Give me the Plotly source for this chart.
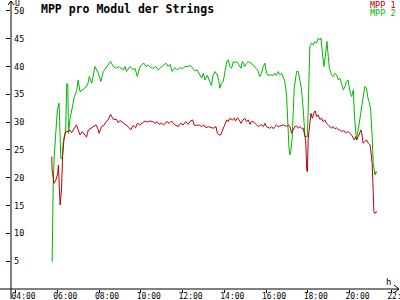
import plotly.graph_objects as go

# ---- data ----
series_names = ["MPP 1", "MPP 2"]
series_colors = ["#c00000", "#00b800"]

mpp1_times = ["05:44","05:45","05:50","05:56","06:01","06:03","06:08","06:10","06:12","06:15","06:19","06:24","06:32","06:36","06:41","06:49","06:55","07:00","07:05","07:12","07:18","07:24","07:29","07:37","07:43","07:51","07:56","08:00","08:07","08:15","08:20","08:26","08:33","08:41","08:50","08:55","09:00","09:10","09:17","09:24","09:31","09:38","09:45","09:50","09:57","10:05","10:12","10:19","10:26","10:34","10:41","10:47","10:53","11:00","11:06","11:14","11:22","11:28","11:33","11:41","11:48","11:54","12:02","12:09","12:16","12:23","12:29","12:33","12:40","12:48","12:55","13:01","13:07","13:14","13:21","13:28","13:36","13:40","13:45","13:50","13:54","14:00","14:07","14:11","14:16","14:23","14:29","14:32","14:38","14:42","14:48","14:54","14:59","15:04","15:09","15:14","15:18","15:23","15:28","15:33","15:38","15:42","15:47","15:52","15:57","16:01","16:06","16:11","16:16","16:21","16:25","16:30","16:35","16:40","16:45","16:49","16:54","16:59","17:04","17:09","17:13","17:18","17:23","17:28","17:33","17:37","17:42","17:47","17:50","17:54","17:57","17:59","18:01","18:06","18:09","18:13","18:19","18:22","18:25","18:30","18:35","18:40","18:44","18:49","18:54","18:59","19:04","19:08","19:13","19:18","19:23","19:28","19:32","19:37","19:42","19:47","19:51","19:56","20:01","20:06","20:11","20:14","20:17","20:21","20:25","20:30","20:33","20:36","20:39","20:44","20:49","20:54","20:59","21:01","21:05","21:08","21:10","21:13","21:16","21:19"]
mpp1_values = [23.8,21.4,19.0,19.6,20.8,22.3,15.1,16.0,17.8,23.8,26.8,28.3,28.3,28.6,28.1,28.9,29.5,28.6,27.7,28.3,27.7,27.3,28.6,28.9,29.2,29.5,28.9,28.0,29.2,29.5,30.1,30.4,31.4,30.5,30.5,29.9,30.3,29.8,29.5,29.2,28.6,29.4,29.0,29.8,29.5,29.8,30.2,30.0,30.2,30.1,29.8,30.1,29.6,29.8,29.5,30.1,29.8,30.2,29.8,29.4,29.2,29.8,29.5,30.1,29.6,30.2,30.4,29.5,29.4,29.5,29.2,29.5,29.0,29.2,29.0,28.9,29.2,28.0,27.7,27.7,28.4,29.5,30.4,30.1,30.7,30.4,30.7,30.2,30.8,30.4,29.8,30.4,30.7,30.1,30.4,29.6,30.1,30.1,29.8,29.5,29.2,29.4,29.5,29.2,29.8,29.2,29.0,28.9,29.2,28.8,29.2,29.5,29.2,29.3,29.4,29.5,29.4,29.2,29.5,29.2,28.0,28.6,29.2,29.3,28.9,29.2,28.9,28.9,28.0,26.8,21.4,21.1,26.8,30.4,31.6,30.7,31.9,32.0,31.0,31.3,30.5,30.7,30.1,30.4,29.8,29.5,29.2,28.9,29.2,28.8,29.0,28.6,28.6,28.3,28.5,28.3,28.1,28.3,28.0,27.7,27.1,26.8,27.4,26.8,27.4,28.0,28.6,27.7,26.2,26.5,26.8,26.2,25.9,25.0,22.6,17.8,13.9,13.6,13.9,13.8]

mpp2_times = ["05:45","05:46","05:48","05:51","05:56","06:00","06:05","06:08","06:10","06:14","06:17","06:24","06:27","06:30","06:32","06:36","06:41","06:49","06:55","07:00","07:05","07:12","07:19","07:27","07:32","07:39","07:48","07:58","08:05","08:12","08:26","08:33","08:41","08:50","08:57","09:00","09:10","09:14","09:19","09:29","09:38","09:43","09:50","09:56","10:02","10:09","10:15","10:21","10:28","10:36","10:43","10:50","10:57","11:05","11:12","11:19","11:24","11:30","11:38","11:45","11:52","12:00","12:07","12:16","12:23","12:29","12:36","12:42","12:48","12:55","13:00","13:04","13:11","13:17","13:23","13:28","13:33","13:40","13:44","13:47","13:52","13:57","14:02","14:07","14:11","14:16","14:21","14:26","14:30","14:35","14:42","14:48","14:52","14:59","15:04","15:09","15:16","15:23","15:30","15:36","15:42","15:47","15:52","15:57","16:01","16:06","16:14","16:21","16:25","16:30","16:35","16:40","16:45","16:49","16:54","16:59","17:02","17:06","17:09","17:11","17:15","17:18","17:21","17:25","17:28","17:33","17:37","17:42","17:47","17:52","17:59","18:03","18:06","18:11","18:16","18:20","18:25","18:30","18:35","18:38","18:42","18:46","18:51","18:55","18:59","19:02","19:08","19:13","19:18","19:23","19:28","19:32","19:37","19:42","19:47","19:51","19:56","20:01","20:06","20:11","20:14","20:17","20:20","20:23","20:27","20:31","20:35","20:39","20:44","20:49","20:52","20:56","21:01","21:05","21:08","21:13","21:16","21:19"]
mpp2_values = [4.9,13.3,18.4,23.8,29.8,32.2,33.4,29.2,23.5,23.5,26.5,28.6,36.9,36.9,28.0,30.4,32.2,34.6,35.5,37.6,35.5,35.8,36.1,36.7,38.2,37.0,40.0,38.8,37.3,39.1,40.3,40.9,40.0,39.7,40.0,39.8,39.4,40.0,39.1,40.0,39.4,39.7,38.2,39.7,40.3,40.6,40.0,40.3,39.8,39.7,40.0,39.4,39.8,40.3,40.6,40.0,40.4,39.1,39.8,39.4,39.8,39.6,40.0,40.0,40.2,39.7,39.2,39.4,38.8,37.9,38.8,37.6,38.4,37.3,36.6,38.5,39.1,38.5,37.5,36.1,37.0,37.3,38.8,40.9,41.2,40.0,39.7,40.9,40.6,40.9,40.3,39.7,40.9,40.0,40.6,40.9,40.6,40.3,39.7,39.4,38.2,38.8,40.0,40.6,38.8,38.4,38.5,38.4,38.8,38.4,39.1,38.5,38.8,38.2,37.3,34.9,30.1,25.3,24.1,24.7,27.1,31.3,36.1,37.9,39.1,39.1,37.6,35.8,32.2,27.4,27.4,37.6,43.6,44.2,43.9,44.5,44.2,45.1,44.8,45.1,43.0,40.0,42.1,44.5,41.8,39.7,38.5,38.2,38.8,38.5,37.6,37.9,37.0,35.8,36.4,37.3,37.6,35.5,34.6,35.8,31.3,28.6,26.8,28.0,29.2,31.0,32.8,34.6,36.4,36.1,34.6,33.7,32.2,27.4,22.6,20.5,21.1,20.8]

y_tick_values = [5, 10, 15, 20, 25, 30, 35, 40, 45, 50]
x_tick_labels = ["04:00", "06:00", "08:00", "10:00", "12:00", "14:00", "16:00", "18:00", "20:00", "22:00"]

title_text = "MPP pro Modul der Strings"
y_unit = "U"
x_unit = "h"

DAY = "2024-01-01 "
MONO = "DejaVu Sans Mono"

fig = go.Figure()
for name, color, times, vals in [
    (series_names[1], series_colors[1], mpp2_times, mpp2_values),
    (series_names[0], series_colors[0], mpp1_times, mpp1_values),
]:
    fig.add_trace(go.Scatter(
        x=[DAY + t + ":00" for t in times], y=vals, mode="lines", name=name,
        line=dict(color=color, width=1), showlegend=False, hoverinfo="skip",
    ))

# plot area: x 11..400 px, y 2..289 px
L, T, B, R = 11, 2, 11, 0
W, H = 400, 300
pw, ph = W - L - R, H - T - B

def px2paper_x(px):
    return (px - L) / pw

def py2paper_y(py):
    return (H - B - py) / ph

axis_col = "black"
shapes = [
    dict(type="line", xref="paper", yref="paper", x0=px2paper_x(0), x1=px2paper_x(399), y0=0, y1=0,
         line=dict(color=axis_col, width=1)),
    dict(type="line", xref="paper", yref="paper", x0=0, x1=0, y0=py2paper_y(299), y1=py2paper_y(1),
         line=dict(color=axis_col, width=1)),
    dict(type="path", xref="paper", yref="paper",
         path=f"M {px2paper_x(394)} {py2paper_y(285)} L {px2paper_x(399)} {py2paper_y(289)} L {px2paper_x(394)} {py2paper_y(293)}",
         line=dict(color=axis_col, width=1)),
    dict(type="path", xref="paper", yref="paper",
         path=f"M {px2paper_x(8)} {py2paper_y(5)} L {px2paper_x(11)} {py2paper_y(1)} L {px2paper_x(14)} {py2paper_y(5)}",
         line=dict(color=axis_col, width=1)),
]

annotations = [
    dict(text=y_unit, xref="paper", yref="paper", x=px2paper_x(14), y=py2paper_y(3.5),
         xanchor="left", yanchor="middle", showarrow=False, borderpad=0,
         font=dict(family=MONO, size=8, color="black")),
    dict(text=x_unit, xref="paper", yref="paper", x=px2paper_x(385), y=py2paper_y(281.5),
         xanchor="left", yanchor="middle", showarrow=False, borderpad=0,
         font=dict(family=MONO, size=9, color="black")),
    dict(text=series_names[0], xref="paper", yref="paper", x=px2paper_x(397), y=py2paper_y(4.5),
         xanchor="right", yanchor="middle", showarrow=False, borderpad=0,
         font=dict(family=MONO, size=8.5, color=series_colors[0])),
    dict(text=series_names[1], xref="paper", yref="paper", x=px2paper_x(397), y=py2paper_y(12.5),
         xanchor="right", yanchor="middle", showarrow=False, borderpad=0,
         font=dict(family=MONO, size=8.5, color=series_colors[1])),
    dict(text=f"<b>{title_text}</b>", xref="paper", yref="paper", x=px2paper_x(40), y=py2paper_y(8.5),
         xanchor="left", yanchor="middle", showarrow=False, borderpad=0,
         font=dict(family=MONO, size=11.5, color="black")),
]

fig.update_layout(
    width=W, height=H,
    margin=dict(l=L, r=R, t=T, b=B, pad=0, autoexpand=False),
    paper_bgcolor="white", plot_bgcolor="white",
    shapes=shapes,
    annotations=annotations,
    xaxis=dict(
        type="date",
        range=[DAY + "03:46:47", DAY + "22:25:07"],
        tickvals=[DAY + t + ":00" for t in x_tick_labels],
        ticktext=x_tick_labels,
        ticks="outside", ticklen=3, tickwidth=1, tickcolor="black",
        ticklabelshift=8, ticklabelstandoff=-4, ticklabeloverflow="allow",
        showgrid=False, zeroline=False, showline=False, automargin=False,
        tickfont=dict(family=MONO, size=8, color="black"),
        fixedrange=True,
    ),
    yaxis=dict(
        range=[0, 51.6],
        tickvals=y_tick_values,
        # left-aligned look in a monospace font: pad one-digit labels with a no-break space
        ticktext=[str(v) if v >= 10 else str(v) + "\u00a0" for v in y_tick_values],
        ticks="outside", ticklen=4, tickwidth=1, tickcolor="black",
        ticklabelposition="outside", ticklabelstandoff=-20, ticklabeloverflow="allow",
        showgrid=False, zeroline=False, showline=False, automargin=False,
        tickfont=dict(family=MONO, size=8.5, color="black"),
        fixedrange=True,
    ),
)

fig.write_html("out.html")
